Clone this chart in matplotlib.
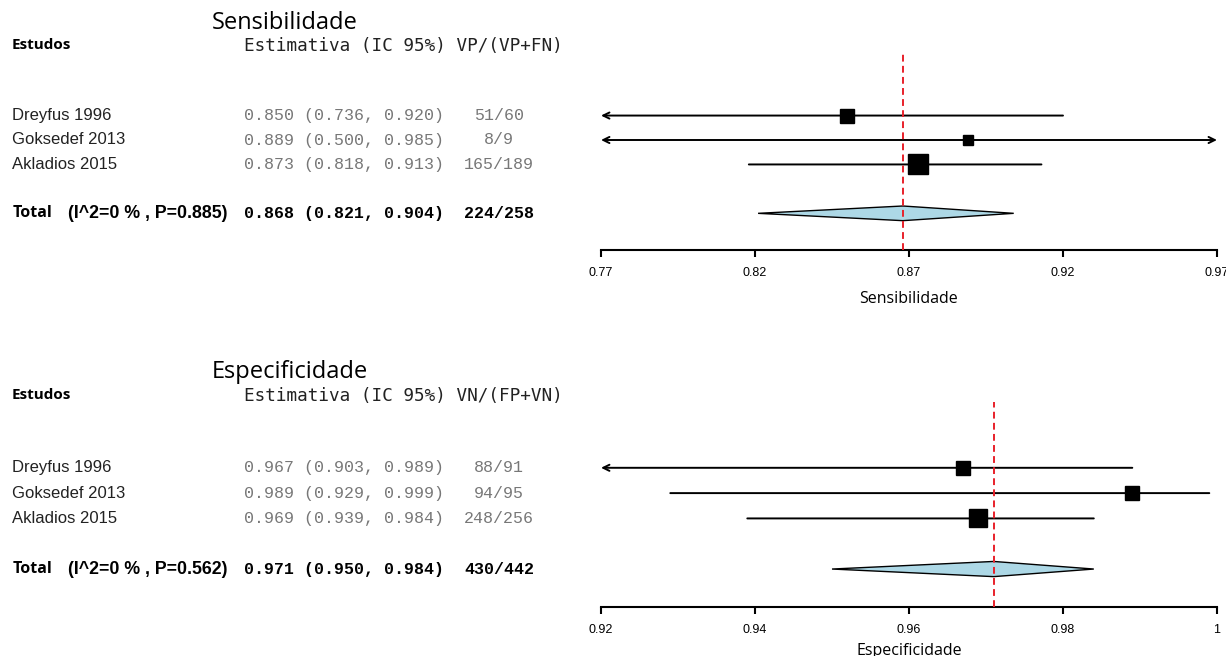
import numpy as np
import matplotlib.pyplot as plt
import matplotlib.transforms as mtransforms

# dados
estudos = ['Dreyfus 1996', 'Goksedef 2013', 'Akladios 2015']

sens_est = [0.850, 0.889, 0.873]
sens_lo = [0.736, 0.500, 0.818]
sens_hi = [0.920, 0.985, 0.913]
sens_n = ['51/60', '8/9', '165/189']
sens_total = [0.868, 0.821, 0.904]
sens_total_n = '224/258'
sens_het = '(I^2=0 % , P=0.885)'
sens_ticks = [0.77, 0.82, 0.87, 0.92, 0.97]
sens_ticklabels = ['0.77', '0.82', '0.87', '0.92', '0.97']

espec_est = [0.967, 0.989, 0.969]
espec_lo = [0.903, 0.929, 0.939]
espec_hi = [0.989, 0.999, 0.984]
espec_n = ['88/91', '94/95', '248/256']
espec_total = [0.971, 0.950, 0.984]
espec_total_n = '430/442'
espec_het = '(I^2=0 % , P=0.562)'
espec_ticks = [0.92, 0.94, 0.96, 0.98, 1.0]
espec_ticklabels = ['0.92', '0.94', '0.96', '0.98', '1']

# tamanho dos quadrados (peso)
sens_box = [10, 6.5, 14]
espec_box = [10, 10.5, 13.5]

W, H = 1226, 656
fig = plt.figure(figsize=(W / 100, H / 100), dpi=100)

SANS = 'Liberation Sans'
TITLE = 'Open Sans'
MONO = 'Liberation Mono'


def painel(top_px, bot_px, titulo, cab, est, lo, hi, n, tot, tot_n, het, ticks, ticklabels, box, lpad):
    ax = fig.add_axes([601 / W, 1 - bot_px / H, 616 / W, (bot_px - top_px) / H])
    xmin, xmax = ticks[0], ticks[-1]
    ax.set_xlim(xmin, xmax)
    ax.set_ylim(6.5, -1.6)
    for s in ['top', 'right', 'left']:
        ax.spines[s].set_visible(False)
    ax.spines['bottom'].set_linewidth(1.5)
    ax.set_yticks([])
    ax.set_xticks(ticks)
    ax.set_xticklabels(ticklabels, fontsize=9, family=SANS)
    ax.tick_params(axis='x', length=5, width=1.5, pad=7)
    ax.set_xlabel(titulo, fontsize=11.5, family=TITLE, labelpad=lpad)

    linhas = np.arange(1, len(est) + 1)
    for y, e, a, b, s in zip(linhas, est, lo, hi, box):
        a_c, b_c = max(a, xmin), min(b, xmax)
        estilo = {(True, True): '<->', (True, False): '<-',
                  (False, True): '->', (False, False): '-'}[(a < xmin, b > xmax)]
        ax.annotate('', xy=(b_c, y), xytext=(a_c, y),
                    arrowprops=dict(arrowstyle=estilo + ',head_length=0.45,head_width=0.22' if estilo != '-' else '-',
                                    lw=1.4, color='black', shrinkA=0, shrinkB=0))
        ax.plot(e, y, marker='s', ms=s, color='black', zorder=3)

    yt = 5.0
    dx = [tot[1], tot[0], tot[2], tot[0]]
    dy = [yt, yt - 0.3, yt, yt + 0.3]
    ax.fill(dx, dy, facecolor='#add8e6', edgecolor='black', lw=1.0, zorder=2)
    ax.axvline(tot[0], color='#e8202a', ls=(0, (3.5, 2.2)), lw=1.4, zorder=4)

    tr = mtransforms.blended_transform_factory(fig.transFigure, ax.transData)
    fig.text(212 / W, -2.78, titulo, transform=tr, fontsize=17, family=TITLE, va='center')
    fig.text(12 / W, -1.88, 'Estudos', transform=tr, fontsize=11, family=TITLE,
             weight='bold', va='center')
    fig.text(244 / W, -1.85, 'Estimativa (IC 95%) ' + cab, transform=tr, fontsize=12.7,
             family='DejaVu Sans Mono', va='center', color='#222222')
    for y, nome, e, a, b, c in zip(linhas, estudos, est, lo, hi, n):
        fig.text(12 / W, y, nome, transform=tr, fontsize=12, family=SANS, va='center', color='#222222')
        fig.text(244 / W, y, f'{e:.3f} ({a:.3f}, {b:.3f})', transform=tr, fontsize=12,
                 family=MONO, va='center', color='#777777')
        fig.text(499 / W, y, c, transform=tr, fontsize=12, family=MONO, va='center',
                 ha='center', color='#777777')
    fig.text(13 / W, yt, 'Total', transform=tr, fontsize=11.5, family=TITLE, weight='bold', va='center')
    fig.text(68 / W, yt, het, transform=tr, fontsize=12.8, family=SANS, weight='bold', va='center')
    fig.text(244 / W, yt, f'{tot[0]:.3f} ({tot[1]:.3f}, {tot[2]:.3f})', transform=tr, fontsize=12,
             family=MONO, weight='bold', va='center')
    fig.text(499 / W, yt, tot_n, transform=tr, fontsize=12, family=MONO, weight='bold',
             va='center', ha='center')
    return ax


painel(52, 250, 'Sensibilidade', 'VP/(VP+FN)', sens_est, sens_lo, sens_hi, sens_n,
       sens_total, sens_total_n, sens_het, sens_ticks, sens_ticklabels, sens_box, 9)
painel(402, 607, 'Especificidade', 'VN/(FP+VN)', espec_est, espec_lo, espec_hi, espec_n,
       espec_total, espec_total_n, espec_het, espec_ticks, espec_ticklabels, espec_box, 5)

fig.savefig('out.png', dpi=100)
